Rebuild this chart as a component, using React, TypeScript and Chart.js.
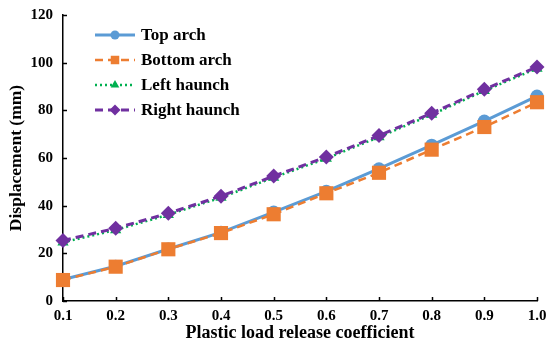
import React, { useEffect, useRef } from 'react';
import { Chart, registerables } from 'chart.js';
import { drawPoint } from 'chart.js/helpers';

Chart.register(...registerables);

const coefficients = [0.1, 0.2, 0.3, 0.4, 0.5, 0.6, 0.7, 0.8, 0.9, 1.0];
const topArch = [9.0, 14.6, 21.8, 28.8, 37.3, 46.0, 55.5, 65.4, 75.5, 86.0];
const bottomArch = [8.8, 14.4, 21.7, 28.5, 36.4, 45.2, 53.8, 63.5, 73.0, 83.4];
const leftHaunch = [24.6, 29.8, 36.2, 43.4, 51.8, 59.8, 68.8, 78.2, 88.2, 97.6];
const rightHaunch = [25.4, 30.5, 36.8, 44.0, 52.4, 60.4, 69.4, 78.8, 88.8, 98.2];
const seriesNames = ['Top arch', 'Bottom arch', 'Left haunch', 'Right haunch'];
const yTicks = [0, 20, 40, 60, 80, 100, 120];

const FONT = "'Liberation Serif', 'Times New Roman', serif";

const legendMarkerRadius = [4.5, 6, 5, 5.5];

const inwardTicks = {
  id: 'inwardTicks',
  afterDraw(chart: any) {
    const { ctx, chartArea, scales } = chart;
    const len = 4;
    ctx.save();
    ctx.strokeStyle = '#000';
    ctx.lineWidth = 1.5;
    ctx.beginPath();
    scales.x.ticks.forEach((t: any) => {
      const px = Math.round(scales.x.getPixelForValue(t.value)) + 0.5;
      ctx.moveTo(px, chartArea.bottom);
      ctx.lineTo(px, chartArea.bottom - len);
    });
    scales.y.ticks.forEach((t: any) => {
      const py = Math.round(scales.y.getPixelForValue(t.value)) + 0.5;
      ctx.moveTo(chartArea.left, py);
      ctx.lineTo(chartArea.left + len, py);
    });
    ctx.stroke();
    ctx.restore();
  },
};

const insideLegend = {
  id: 'insideLegend',
  afterDraw(chart: any) {
    const { ctx, chartArea } = chart;
    const x0 = chartArea.left + 32;
    const lineLen = 40;
    const y0 = chartArea.top + 20;
    const rowH = 25;
    ctx.save();
    chart.data.datasets.forEach((ds: any, i: number) => {
      const y = y0 + i * rowH;
      ctx.strokeStyle = ds.borderColor;
      ctx.lineWidth = ds.borderWidth;
      ctx.setLineDash(ds.borderDash || []);
      ctx.beginPath();
      ctx.moveTo(x0, y);
      ctx.lineTo(x0 + lineLen, y);
      ctx.stroke();
      ctx.setLineDash([]);
      ctx.fillStyle = ds.pointBackgroundColor;
      ctx.strokeStyle = ds.pointBorderColor;
      ctx.lineWidth = 0;
      drawPoint(ctx, { pointStyle: ds.pointStyle, radius: legendMarkerRadius[i], rotation: 0, borderWidth: 0 }, x0 + lineLen / 2, y);
      ctx.fillStyle = '#000';
      ctx.font = `bold 17px ${FONT}`;
      ctx.textBaseline = 'middle';
      ctx.textAlign = 'left';
      ctx.fillText(ds.label, x0 + lineLen + 6, y + 1);
    });
    ctx.restore();
  },
};

export default function App() {
  const ref = useRef<HTMLCanvasElement | null>(null);
  useEffect(() => {
    if (!ref.current) return;
    const mk = (arr: number[]) => arr.map((v, i) => ({ x: coefficients[i], y: v }));
    const chart = new Chart(ref.current, {
      type: 'line',
      data: {
        datasets: [
          {
            label: seriesNames[0],
            data: mk(topArch),
            borderColor: '#5B9BD5',
            backgroundColor: '#5B9BD5',
            pointBackgroundColor: '#5B9BD5',
            pointBorderColor: '#5B9BD5',
            borderWidth: 3,
            pointStyle: 'circle',
            pointRadius: 6.5,
            pointBorderWidth: 0,
            order: 4,
          },
          {
            label: seriesNames[1],
            data: mk(bottomArch),
            borderColor: '#ED7D31',
            backgroundColor: '#ED7D31',
            pointBackgroundColor: '#ED7D31',
            pointBorderColor: '#ED7D31',
            borderWidth: 2.5,
            borderDash: [8, 5],
            pointStyle: 'rect',
            pointRadius: 10,
            pointBorderWidth: 0,
            order: 3,
          },
          {
            label: seriesNames[2],
            data: mk(leftHaunch),
            borderColor: '#00B050',
            backgroundColor: '#00B050',
            pointBackgroundColor: '#00B050',
            pointBorderColor: '#00B050',
            borderWidth: 2.5,
            borderDash: [2, 3],
            pointStyle: 'triangle',
            pointRadius: 6.5,
            pointBorderWidth: 0,
            order: 2,
          },
          {
            label: seriesNames[3],
            data: mk(rightHaunch),
            borderColor: '#7030A0',
            backgroundColor: '#7030A0',
            pointBackgroundColor: '#7030A0',
            pointBorderColor: '#7030A0',
            borderWidth: 3,
            borderDash: [8, 5],
            pointStyle: 'rectRot',
            pointRadius: 7.5,
            pointBorderWidth: 0,
            order: 1,
          },
        ],
      },
      options: {
        animation: false,
        responsive: false,
        maintainAspectRatio: false,
        clip: false as any,
        layout: { padding: { left: 0, top: 15, right: 13, bottom: 0 } },
        plugins: {
          legend: { display: false },
          tooltip: { enabled: false },
        },
        scales: {
          x: {
            type: 'linear',
            min: 0.1,
            max: 1.0,
            afterFit: (s: any) => {
              s.height = 45;
              s.paddingLeft = 0;
              s.paddingRight = 0;
              s.paddingTop = 0;
              s.paddingBottom = 0;
            },
            afterBuildTicks: (s: any) => { s.ticks = coefficients.map((v) => ({ value: v })); },
            ticks: {
              color: '#000',
              font: { family: FONT, size: 15, weight: 'bold' },
              padding: 6,
              maxRotation: 0,
              callback: (v: any) => Number(v).toFixed(1),
            },
            grid: { display: false, drawOnChartArea: false, drawTicks: false },
            border: { color: '#000', width: 1.5 },
            title: {
              display: true,
              text: 'Plastic load release coefficient',
              color: '#000',
              font: { family: FONT, size: 18, weight: 'bold' },
              padding: { top: 0, bottom: 2 },
            },
          },
          y: {
            type: 'linear',
            min: 0,
            max: 120,
            afterFit: (s: any) => {
              s.width = 63;
              s.paddingLeft = 0;
              s.paddingRight = 0;
              s.paddingTop = 0;
              s.paddingBottom = 0;
            },
            afterBuildTicks: (s: any) => { s.ticks = yTicks.map((v) => ({ value: v })); },
            ticks: {
              color: '#000',
              font: { family: FONT, size: 15, weight: 'bold' },
              padding: 10,
            },
            grid: { display: false, drawOnChartArea: false, drawTicks: false },
            border: { color: '#000', width: 1.5 },
            title: {
              display: true,
              text: 'Displacement (mm)',
              color: '#000',
              font: { family: FONT, size: 17.5, weight: 'bold' },
              padding: { top: 6, bottom: 0 },
            },
          },
        },
      },
      plugins: [inwardTicks, insideLegend],
    });
    return () => chart.destroy();
  }, []);
  return (
    <div style={{ position: 'fixed', left: 0, top: 0, width: 550, height: 346, background: '#fff' }}>
      <canvas ref={ref} width={550} height={346} style={{ display: 'block', width: 550, height: 346 }} />
    </div>
  );
}
